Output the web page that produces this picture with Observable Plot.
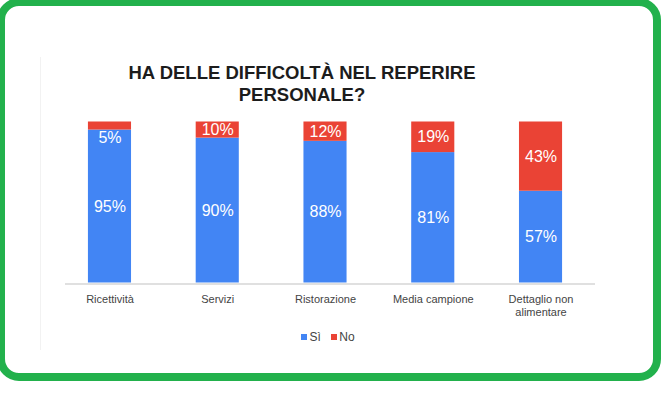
<!DOCTYPE html>
<html>
<head>
<meta charset="utf-8">
<script src="https://cdn.jsdelivr.net/npm/d3@7"></script>
<script src="https://cdn.jsdelivr.net/npm/@observablehq/plot@0.6"></script>
<style>
  html, body { margin: 0; padding: 0; background: #fff; }
  #wrap { position: relative; width: 668px; height: 397px; overflow: hidden; font-family: "Liberation Sans", Arial, sans-serif; }
  #border { position: absolute; left: -3px; top: -2px; width: 648px; height: 367px; border: 8px solid #22B14C; border-radius: 22px; pointer-events: none; z-index: 5; }
  #edge { position: absolute; left: 40px; top: 57px; width: 1px; height: 293px; background: #f2f2f2; }
  #title { position: absolute; left: 0; top: 62px; width: 604px; text-align: center; font-weight: bold; font-size: 18.5px; line-height: 21.6px; color: #1c1c1c; }
  #chart { position: absolute; left: 0; top: 0; }
  #legend { position: absolute; left: 301px; top: 330px; display: flex; align-items: center; font-size: 12px; line-height: 14px; color: #444; }
  #legend .sw { width: 6px; height: 6px; margin-right: 2.5px; }
  #legend .item { display: flex; align-items: center; margin-right: 10px; }
</style>
</head>
<body>
<div id="wrap">
  <div id="edge"></div>
  <div id="chart"></div>
  <div id="title">HA DELLE DIFFICOLTÀ NEL REPERIRE<br>PERSONALE?</div>
  <div id="legend"></div>
  <div id="border"></div>
</div>
<script>
const categories = ["Ricettività", "Servizi", "Ristorazione", "Media campione", "Dettaglio non alimentare"];
const tickLabels = ["Ricettività", "Servizi", "Ristorazione", "Media campione", "Dettaglio non\nalimentare"];
const series = ["Sì", "No"];
const colors = ["#4285F4", "#EA4335"];
const siValues = [95, 90, 88, 81, 57];
const noValues = [5, 10, 12, 19, 43];

const rows = [];
categories.forEach((c, i) => {
  rows.push({categoria: c, risposta: "Sì", valore: siValues[i]});
  rows.push({categoria: c, risposta: "No", valore: noValues[i]});
});

const stackOpts = {x: "categoria", y: "valore", z: "risposta", order: series};

const plot = Plot.plot({
  width: 668,
  height: 330,
  marginTop: 121.5,
  marginBottom: 47.5,
  marginLeft: 65,
  marginRight: 73,
  style: {background: "transparent", fontFamily: "'Liberation Sans', Arial, sans-serif", overflow: "visible"},
  x: {domain: categories, range: [55.6, 594.4], paddingInner: 0.6, paddingOuter: 0.3, round: false},
  y: {domain: [0, 100]},
  color: {domain: series, range: colors},
  marks: [
    Plot.ruleY([0], {stroke: "#e0e0e0", strokeWidth: 2, dy: 1}),
    Plot.barY(rows, Plot.stackY({...stackOpts, fill: "risposta"})),
    Plot.text(rows, Plot.filter(d => d.valore >= 8, Plot.stackY({...stackOpts, text: d => d.valore + "%", fill: "white", fontSize: 16}))),
    Plot.text(rows, Plot.filter(d => d.valore < 8, Plot.stackY1({...stackOpts, text: d => d.valore + "%", fill: "white", fontSize: 16, dy: 7.5}))),
    Plot.axisX({tickSize: 0, tickPadding: 10.7, fontSize: 11, lineHeight: 1.18, fill: "#444", label: null,
      tickFormat: d => tickLabels[categories.indexOf(d)]}),
    Plot.axisY({ticks: [], label: null, tickSize: 0})
  ]
});
document.getElementById("chart").appendChild(plot);

const legend = document.getElementById("legend");
series.forEach((s, i) => {
  const item = document.createElement("div");
  item.className = "item";
  const sw = document.createElement("span");
  sw.className = "sw";
  sw.style.background = colors[i];
  const t = document.createElement("span");
  t.textContent = s;
  item.appendChild(sw);
  item.appendChild(t);
  legend.appendChild(item);
});
</script>
</body>
</html>
